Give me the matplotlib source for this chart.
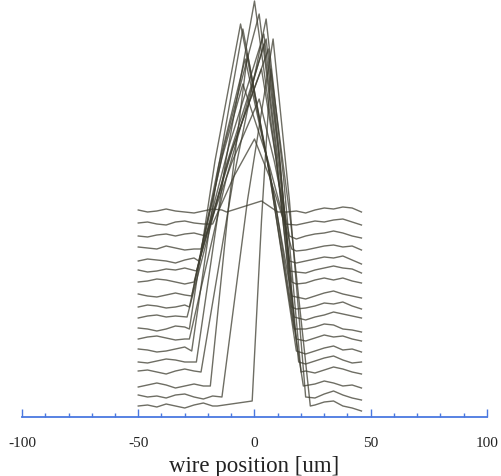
import matplotlib
matplotlib.use("Agg")
import matplotlib.pyplot as plt
from matplotlib.ticker import MultipleLocator

# Stacked wire-scan profiles: each trace is drawn on its own vertical offset
wire_left = [-50, -46, -42, -38, -34, -30, -26, -22, -18, -14, -10, -6]
wire_right = [14, 18, 22, 26, 30, 34, 38, 42, 46]

offsets = [11, 20, 31, 45, 55, 66, 78, 88, 100, 110, 121, 135, 146, 156, 168, 181, 193, 205]

left_wiggle = [
    [0, 1, -1, 2, 0, -2, 1, 3, 0, -1, 0, 2],
    [2, 0, 1, -1, 2, 3, 0, -2, 1, 0, -1, 0],
    [-1, 1, 3, 1, -2, 0, 2, 0, -1, 1, 2, 0],
    [1, 2, 0, -2, 1, 3, 1, -1, 0, 2, 1, 0],
    [0, -1, 1, 3, 2, 0, -2, 0, 2, 1, 0, -1],
    [2, 1, -1, 0, 2, 4, 1, -1, 0, 1, 2, 1],
    [0, 2, 3, 1, -1, 0, 2, 1, -1, 0, 1, 0],
    [1, 0, -2, 0, 3, 2, 0, -1, 1, 2, 0, 1],
    [-1, 1, 2, 0, 1, 3, 2, 0, -2, 0, 1, 0],
    [0, 2, 1, -1, 0, 2, 3, 1, 0, -1, 1, 2],
    [2, 0, -1, 1, 3, 1, -1, 0, 2, 1, 0, 1],
    [0, 1, 3, 2, 0, -2, 1, 2, 0, 1, -1, 0],
    [1, -1, 0, 2, 1, 3, 0, -1, 1, 0, 2, 1],
    [0, 2, 1, 0, -2, 1, 3, 2, 0, 1, 0, -1],
    [2, 1, 0, 3, 1, -1, 0, 2, 1, 0, 1, 0],
    [0, -1, 1, 2, 0, 2, 3, 0, -1, 1, 0, 2],
    [1, 2, 0, -1, 2, 3, 1, 0, 2, 1, 0, 1],
    [2, 0, 1, 3, 1, 0, -1, 1, 3, 2, 1, 0],
]

right_wiggle = [
    [0, 0, 0, 1, 4, 5, 0, -2, -5],
    [0, 0, 0, -1, 3, 6, 2, -1, -3],
    [0, 0, -1, 2, 5, 3, 0, 1, -2],
    [0, 0, 1, -1, 2, 5, 3, 0, -2],
    [0, 0, -2, 1, 4, 6, 2, -1, 0],
    [0, -1, -3, 0, 3, 5, 1, 2, -1],
    [0, -1, -2, 1, 4, 2, 3, 0, -2],
    [0, -2, 0, 2, 5, 4, 0, -1, -3],
    [0, -1, -3, 0, 2, 5, 3, 1, -1],
    [0, -2, -1, 1, 4, 3, 5, 1, -2],
    [0, -1, -3, 0, 3, 5, 2, 0, -2],
    [0, -2, -1, 2, 4, 2, 4, 1, -1],
    [0, -1, -2, 1, 3, 5, 3, 2, -2],
    [-1, -2, 0, 2, 4, 3, 5, 1, -3],
    [0, -2, -1, 1, 3, 4, 2, 3, -1],
    [-1, -3, 0, 2, 3, 5, 3, 0, -2],
    [0, -1, 1, 3, 2, 4, 5, 2, -1],
    [0, 1, -1, 2, 4, 3, 5, 4, 0],
]

peak_x = [
    [-16, -1, 3, 7, 15.5, 24],
    [-14, -3, 8, 15, 22],
    [-19, -11, -3, 9, 21],
    [-23, -9, 5, 12.5, 20],
    [-25, -12.5, 0, 9.5, 19],
    [-27, -16, -5, 6.5, 18],
    [-28, -12, 4, 11, 18],
    [-28, -17, -6, 5.5, 17],
    [-29, -12, 5, 11, 17],
    [-28, -13, 2, 9, 16],
    [-27, -15.5, -4, 6, 16],
    [-26, -11, 4, 10, 16],
    [-25, -9.5, 6, 10.5, 15],
    [-24, -10.5, 3, 9, 15],
    [-23, -14, -5, 5.5, 16],
    [-21, -9.5, 2, 8.5, 15],
    [-18, -9, 0, 6.5, 13],
    [-12, 3, 10],
]

peak_y = [
    [0, 5, 185, 337, 185, 0],
    [0, 197, 358, 197, 0],
    [0, 183, 332, 183, 0],
    [0, 194, 353, 194, 0],
    [0, 199, 361, 199, 0],
    [0, 177, 322, 177, 0],
    [0, 162, 295, 162, 0],
    [0, 168, 305, 168, 0],
    [0, 153, 278, 153, 0],
    [0, 161, 293, 161, 0],
    [0, 130, 237, 130, 0],
    [0, 136, 248, 136, 0],
    [0, 122, 222, 122, 0],
    [0, 106, 192, 106, 0],
    [0, 91, 165, 91, 0],
    [0, 75, 137, 75, 0],
    [0, 47, 85, 47, 0],
    [0, 11, 0],
]

x_ticks = [-100, -50, 0, 50, 100]
x_label = "wire position [um]"

fig = plt.figure(figsize=(5.02, 4.77), dpi=100)
ax = fig.add_axes([22 / 502, (477 - 418) / 477, 465 / 502, 418 / 477])

for k, base in enumerate(offsets):
    px, py = peak_x[k], peak_y[k]
    xs, ys = [], []
    for x, w in zip(wire_left, left_wiggle[k]):
        if x < px[0] - 1:
            xs.append(x)
            ys.append(w)
    xs += px
    ys += py
    for x, w in zip(wire_right, right_wiggle[k]):
        if x > px[-1] + 1:
            xs.append(x)
            ys.append(w)
    ax.plot(xs, [base + v for v in ys], color="#3e3d30", lw=1.0, alpha=0.75,
            solid_joinstyle="round", clip_on=False)

ax.set_xlim(-100, 100)
ax.set_ylim(0, 418)
for side in ("left", "right", "top"):
    ax.spines[side].set_visible(False)
ax.spines["bottom"].set_color("#4a78e0")
ax.spines["bottom"].set_linewidth(1.3)
ax.set_yticks([])
ax.set_xticks(x_ticks)
ax.set_xticklabels([str(t) for t in x_ticks])
ax.xaxis.set_minor_locator(MultipleLocator(10))
ax.tick_params(axis="x", which="major", direction="in", length=6, width=1,
               color="#4a78e0", pad=14, labelsize=11, labelcolor="#222222")
ax.tick_params(axis="x", which="minor", direction="in", length=3, width=1,
               color="#4a78e0")
for lab in ax.get_xticklabels():
    lab.set_fontfamily("Liberation Serif")
ax.set_xlabel(x_label, fontsize=16.5, fontfamily="Liberation Serif",
              color="#222222", labelpad=4)
ax.patch.set_visible(False)

fig.savefig("out.png", dpi=100)
